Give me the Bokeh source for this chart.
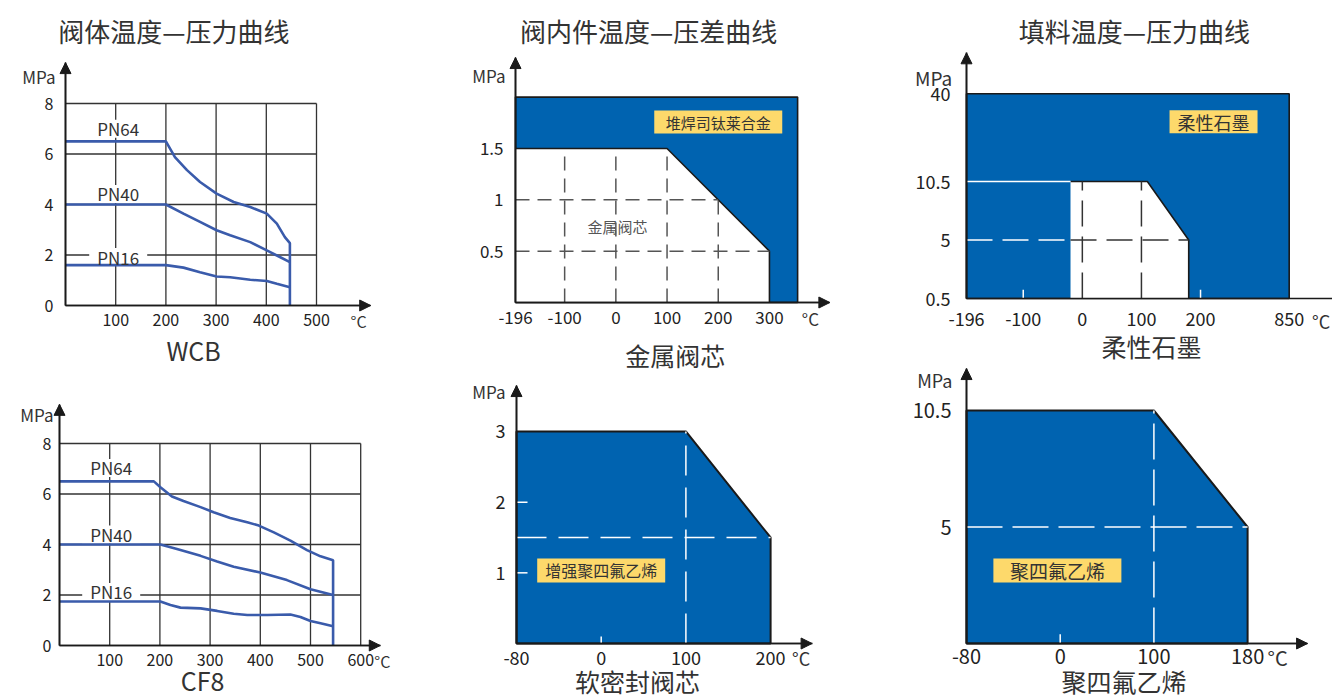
import numpy as np
from bokeh.plotting import figure
from bokeh.layouts import row, column
from bokeh.models import Arrow, NormalHead, Label, FixedTicker, Range1d
from bokeh.embed import file_html
from bokeh.resources import INLINE

# ============================ DATA ============================
title_body = "阀体温度—压力曲线"
title_trim = "阀内件温度—压差曲线"
title_pack = "填料温度—压力曲线"
sub_wcb, sub_cf8 = "WCB", "CF8"
sub_metal, sub_soft, sub_graph, sub_ptfe = "金属阀芯", "软密封阀芯", "柔性石墨", "聚四氟乙烯"
curve_names = ["PN64", "PN40", "PN16"]

# WCB body: temperature (°C) / pressure (MPa)
wcb_pn64_t = [0, 200, 218, 242, 268, 301, 335, 368, 401, 421, 437, 447, 447]
wcb_pn64_p = [6.5, 6.5, 5.88, 5.36, 4.89, 4.43, 4.1, 3.9, 3.64, 3.24, 2.71, 2.47, 0]
wcb_pn40_t = [0, 200, 235, 268, 301, 328, 368, 401, 427, 447]
wcb_pn40_p = [4.0, 4.0, 3.64, 3.31, 2.98, 2.78, 2.51, 2.18, 1.92, 1.72]
wcb_pn16_t = [0, 200, 235, 268, 301, 328, 368, 401, 421, 447]
wcb_pn16_p = [1.6, 1.6, 1.5, 1.32, 1.15, 1.12, 1.02, 0.97, 0.86, 0.72]

# CF8 body
cf8_pn64_t = [0, 188, 201, 224, 247, 281, 307, 340, 374, 397, 427, 460, 493, 520, 545, 545]
cf8_pn64_p = [6.5, 6.5, 6.27, 5.9, 5.72, 5.48, 5.28, 5.05, 4.88, 4.75, 4.48, 4.15, 3.78, 3.53, 3.38, 0]
cf8_pn40_t = [0, 201, 234, 281, 314, 347, 400, 453, 500, 545]
cf8_pn40_p = [4.0, 4.0, 3.82, 3.55, 3.33, 3.12, 2.89, 2.59, 2.23, 2.0]
cf8_pn16_t = [0, 201, 221, 241, 281, 314, 347, 374, 414, 460, 480, 500, 520, 545]
cf8_pn16_p = [1.74, 1.74, 1.6, 1.5, 1.47, 1.37, 1.26, 1.21, 1.21, 1.23, 1.13, 0.97, 0.88, 0.76]

body_y_ticks = [0, 2, 4, 6, 8]
wcb_x_ticks = [100, 200, 300, 400, 500]
cf8_x_ticks = [100, 200, 300, 400, 500, 600]

# Metal trim (stellite overlay envelope and metal core envelope)
metal_hard_t = [-196, 355]
metal_hard_top = 2.0
metal_hard_label = "堆焊司钛莱合金"
metal_t = [-196, 100, 300, 300]
metal_p = [1.5, 1.5, 0.5, 0]
metal_grid_t = [-100, 0, 100, 200]
metal_grid_p = [0.5, 1.0]
metal_x_ticks = [-196, -100, 0, 100, 200, 300]
metal_y_ticks = [0.5, 1, 1.5]
metal_y_labels = ["0.5", "1", "1.5"]

# Soft seat (reinforced PTFE)
soft_t = [-80, 100, 200, 200]
soft_p = [3, 3, 1.5, 0]
soft_label = "增强聚四氟乙烯"
soft_x_ticks = [-80, 0, 100, 200]
soft_y_ticks = [1, 2, 3]

# Flexible graphite packing
graph_outer_t = [-196, 850]
graph_outer_top = 40
graph_t = [-20, -20, 110, 180, 180]
graph_p = [0.5, 10.5, 10.5, 5, 0.5]
graph_grid_t = [0, 100]
graph_grid_p = [5]
graph_x_ticks = [-196, -100, 0, 100, 200, 850]
graph_y_ticks = [0.5, 5, 10.5, 40]
graph_y_labels = ["0.5", "5", "10.5", "40"]

# PTFE packing
ptfe_t = [-80, 100, 180, 180]
ptfe_p = [10.5, 10.5, 5, 0]
ptfe_x_ticks = [-80, 0, 100, 180]
ptfe_y_ticks = [5, 10.5]
ptfe_y_labels = ["5", "10.5"]

# ============================ STYLE ============================
FONT = "Noto Sans CJK SC"
BLUE = "#0063b0"
CURVE = "#3a5bab"
YELLOW = "#fdd96b"
TXT = "#333333"
AX = "#1a1a1a"
GRID = "#333333"

# piecewise axis layouts (schematic, non-uniform axes)
P4X = ([-80, 0, 100, 200], [0, 1, 2, 3])
P5X = ([-196, 200, 850], [-196, 200, 350])
P5Y = ([0.5, 5, 10.5, 40], [0, 1, 2, 3.5])
P6X = ([-80, 0, 100, 180], [0, 1, 2, 3])
P6Y = ([0, 5, 10.5], [0, 1, 2])


def m(v, spec):
    return [float(a) for a in np.interp(v, spec[0], spec[1])]


def mk(box, origin_px, origin, scale):
    """box: (left, top, w, h) of the figure on the page; origin_px: page pixel of data origin."""
    L, T, W, H = box
    X0, Y0 = origin_px
    xd, yd = origin
    sx, sy = scale
    p = figure(width=W, height=H, min_border=0, min_border_left=0, min_border_right=0,
               min_border_top=0, min_border_bottom=0,
               x_range=Range1d(xd - (X0 - L) / sx, xd + (L + W - X0) / sx),
               y_range=Range1d(yd - (T + H - Y0) / sy, yd + (Y0 - T) / sy),
               toolbar_location=None, output_backend="svg", title=None)
    p.outline_line_color = None
    p.grid.visible = False
    p.background_fill_color = "white"
    p.border_fill_color = "white"
    for ax in (p.xaxis[0], p.yaxis[0]):
        ax.axis_line_color = AX
        ax.axis_line_width = 1.6
        ax.major_tick_line_color = None
        ax.minor_tick_line_color = None
        ax.major_tick_out = 0
        ax.major_tick_in = 0
        ax.minor_tick_out = 0
        ax.minor_tick_in = 0
        ax.major_label_text_font = FONT
        ax.major_label_text_color = "#222222"
    p.xaxis[0].fixed_location = yd
    p.yaxis[0].fixed_location = xd
    return p


def ticks(axis, pos, labels, size, standoff):
    pos = [float(v) for v in pos]
    axis.ticker = FixedTicker(ticks=pos, minor_ticks=[])
    axis.major_label_overrides = {v: t for v, t in zip(pos, labels)}
    axis.major_label_text_font_size = f"{size}px"
    axis.major_label_standoff = standoff


def lab(p, x, y, text, size, color=TXT, align="center"):
    p.add_layout(Label(x=x, y=y, text=text, text_font=FONT, text_font_size=f"{size}px",
                       text_color=color, text_align=align, text_baseline="middle"))


def axes(p, x0, y0, xt, yt, arrow_x=True):
    p.xaxis[0].bounds = (x0, xt)
    p.yaxis[0].bounds = (y0, yt)
    if arrow_x:
        p.add_layout(Arrow(end=NormalHead(size=11, fill_color=AX, line_color=AX),
                           x_start=x0, y_start=y0, x_end=xt, y_end=y0,
                           line_color=AX, line_width=1.6))
    p.add_layout(Arrow(end=NormalHead(size=11, fill_color=AX, line_color=AX),
                       x_start=x0, y_start=y0, x_end=x0, y_end=yt,
                       line_color=AX, line_width=1.6))


def body_panel(p, xt, yt, curves, lab_x, lab_y):
    top, right = max(yt), max(xt)
    p.segment(x0=xt, y0=[0] * len(xt), x1=xt, y1=[top] * len(xt), line_color=GRID, line_width=1.3)
    yy = [v for v in yt if v > 0]
    p.segment(x0=[0] * len(yy), y0=yy, x1=[right] * len(yy), y1=yy, line_color=GRID, line_width=1.3)
    p.rect(x=[lab_x] * 3, y=lab_y, width=58, height=18, width_units="screen",
           height_units="screen", fill_color="white", line_color=None)
    for t, pr in curves:
        p.line(t, pr, line_color=CURVE, line_width=2.6)
    for name, y in zip(curve_names, lab_y):
        lab(p, lab_x, y, name, 17)


# ---------------- Panel 1: WCB ----------------
p1 = mk((0, 0, 440, 370), (65, 305), (0, 0), (0.502, 25.25))
body_panel(p1, wcb_x_ticks, body_y_ticks,
           [(wcb_pn64_t, wcb_pn64_p), (wcb_pn40_t, wcb_pn40_p), (wcb_pn16_t, wcb_pn16_p)],
           105, [7.0, 4.42, 1.92])
ticks(p1.xaxis[0], wcb_x_ticks, [str(v) for v in wcb_x_ticks], 16, 8)
ticks(p1.yaxis[0], body_y_ticks, [str(v) for v in body_y_ticks], 16, 12)
axes(p1, 0, 0, 608, 9.62)
lab(p1, 584, -0.6, "°C", 16)
lab(p1, -20, 9.07, "MPa", 17, align="right")
lab(p1, 216, 10.9, title_body, 26)
lab(p1, 255, -1.78, sub_wcb, 25)

# ---------------- Panel 2: CF8 ----------------
p2 = mk((0, 370, 440, 330), (59, 645), (0, 0), (0.502, 25.25))
body_panel(p2, cf8_x_ticks, body_y_ticks,
           [(cf8_pn64_t, cf8_pn64_p), (cf8_pn40_t, cf8_pn40_p), (cf8_pn16_t, cf8_pn16_p)],
           103, [7.03, 4.4, 2.12])
ticks(p2.xaxis[0], cf8_x_ticks, [str(v) for v in cf8_x_ticks], 16, 8)
ticks(p2.yaxis[0], body_y_ticks, [str(v) for v in body_y_ticks], 16, 8)
axes(p2, 0, 0, 639, 9.55)
lab(p2, 643, -0.6, "°C", 16)
lab(p2, -12, 9.15, "MPa", 17, align="right")
lab(p2, 285, -1.38, sub_cf8, 25)

# ---------------- Panel 3: metal trim ----------------
p3 = mk((440, 0, 450, 378), (515, 302), (-196, 0), (0.512, 102.7))
x0, x1 = metal_hard_t
p3.patch([x0, x0, x1, x1], [0, metal_hard_top, metal_hard_top, 0], fill_color=BLUE,
         line_color=AX, line_width=1.6)
p3.patch([metal_t[0]] + metal_t, [0] + metal_p, fill_color="white", line_color=None)
p3.line(metal_t, metal_p, line_color=AX, line_width=1.6)
edge_t, edge_p = metal_t[:3], metal_p[:3]
h_end = [float(np.interp(v, edge_p[::-1], edge_t[::-1])) for v in metal_grid_p]
p3.segment(x0=[metal_t[0]] * len(metal_grid_p), y0=metal_grid_p, x1=h_end, y1=metal_grid_p,
           line_color="#555555", line_width=1.5, line_dash="14 8")
v_top = [float(np.interp(v, edge_t, edge_p)) for v in metal_grid_t]
p3.segment(x0=metal_grid_t, y0=[0] * len(metal_grid_t), x1=metal_grid_t, y1=v_top,
           line_color="#555555", line_width=1.5, line_dash="14 8")
p3.rect(x=[200], y=[1.757], width=128, height=23, width_units="screen", height_units="screen",
        fill_color=YELLOW, line_color=None)
lab(p3, 200, 1.757, metal_hard_label, 15)
lab(p3, 3, 0.74, sub_metal, 15, color="#555555")
ticks(p3.xaxis[0], metal_x_ticks, [str(v) for v in metal_x_ticks], 17, 8)
ticks(p3.yaxis[0], metal_y_ticks, metal_y_labels, 17, 12)
axes(p3, -196, 0, 418, 2.385)
lab(p3, 380, -0.16, "°C", 17)
lab(p3, -215.5, 2.21, "MPa", 17, align="right")
lab(p3, 64, 2.65, title_trim, 26)
lab(p3, 116, -0.51, sub_metal, 25)

# ---------------- Panel 4: soft seat ----------------
p4 = mk((440, 378, 450, 322), (516, 643), (0, 0), (84.7, 70.67))
sx = m(soft_t, P4X)
p4.patch([sx[0]] + sx, [0] + soft_p, fill_color=BLUE, line_color=AX, line_width=2)
c100 = m([100], P4X)[0]
p4.segment(x0=[sx[0]], y0=[soft_p[2]], x1=[sx[-1]], y1=[soft_p[2]], line_color="white",
           line_width=1.5, line_dash="30 12")
p4.segment(x0=[c100], y0=[0], x1=[c100], y1=[soft_p[0]], line_color="white",
           line_width=1.5, line_dash="30 12")
p4.segment(x0=[0, 0], y0=[1, 2], x1=[0.13, 0.13], y1=[1, 2], line_color="white", line_width=1.5)
p4.segment(x0=m([0], P4X), y0=[0], x1=m([0], P4X), y1=[0.1], line_color="white", line_width=1.5)
p4.rect(x=[1.0], y=[1.033], width=128, height=24, width_units="screen", height_units="screen",
        fill_color=YELLOW, line_color=None)
lab(p4, 1.0, 1.033, soft_label, 16)
ticks(p4.xaxis[0], m(soft_x_ticks, P4X), [str(v) for v in soft_x_ticks], 18, 7)
ticks(p4.yaxis[0], soft_y_ticks, [str(v) for v in soft_y_ticks], 18, 11)
axes(p4, 0, 0, 3.49, 3.65)
lab(p4, 3.36, -0.2, "°C", 18)
lab(p4, -0.13, 3.57, "MPa", 17, align="right")
lab(p4, 1.43, -0.53, sub_soft, 25)

# ---------------- Panel 5: flexible graphite ----------------
p5 = mk((890, 0, 442, 365), (966, 298), (-196, 0), (0.591, 58.5))
ox = m(graph_outer_t, P5X)
oy = m([graph_outer_top], P5Y)[0]
p5.patch([ox[0], ox[0], ox[1], ox[1]], [0, oy, oy, 0], fill_color=BLUE, line_color=AX, line_width=1.6)
gx, gy = m(graph_t, P5X), m(graph_p, P5Y)
p5.patch(gx, gy, fill_color="white", line_color=None)
p5.line(gx[1:], gy[1:], line_color=AX, line_width=1.6)
y105 = m([10.5], P5Y)[0]
p5.segment(x0=[-196], y0=[y105], x1=[gx[0]], y1=[y105], line_color="white", line_width=1.3)
y5 = m(graph_grid_p, P5Y)
p5.segment(x0=[-196], y0=y5, x1=[gx[0]], y1=y5, line_color="white", line_width=1.5, line_dash="26 10")
xr5 = float(np.interp(graph_grid_p[0], graph_p[2:][::-1], graph_t[2:][::-1]))
p5.segment(x0=[gx[0]], y0=y5, x1=m([xr5], P5X), y1=y5, line_color="#333333", line_width=1.5,
           line_dash="26 10")
vx = m(graph_grid_t, P5X)
vt = m([float(np.interp(v, graph_t[1:4], graph_p[1:4])) for v in graph_grid_t], P5Y)
p5.segment(x0=vx, y0=[0] * len(vx), x1=vx, y1=vt, line_color="#333333", line_width=1.5,
           line_dash="26 10")
tk = m([-100, 200], P5X)
p5.segment(x0=tk, y0=[0, 0], x1=tk, y1=[0.15, 0.15], line_color="white", line_width=1.5)
p5.rect(x=[222], y=[3.02], width=88, height=23, width_units="screen", height_units="screen",
        fill_color=YELLOW, line_color=None)
lab(p5, 222, 3.02, sub_graph, 18)
ticks(p5.xaxis[0], m(graph_x_ticks, P5X), [str(v) for v in graph_x_ticks], 18, 13)
ticks(p5.yaxis[0], m(graph_y_ticks, P5Y), graph_y_labels, 18, 16)
axes(p5, -196, 0, 620, 4.2, arrow_x=False)
lab(p5, 404, -0.38, "°C", 18)
lab(p5, -220, 3.78, "MPa", 19, align="right")
lab(p5, 88, 4.58, title_pack, 26)
lab(p5, 117, -0.82, sub_graph, 25)

# ---------------- Panel 6: PTFE ----------------
p6 = mk((890, 365, 442, 335), (966, 643), (0, 0), (93.7, 116.5))
px, py = m(ptfe_t, P6X), m(ptfe_p, P6Y)
p6.patch([px[0]] + px, [0] + py, fill_color=BLUE, line_color=AX, line_width=2)
h5 = m([5], P6Y)
p6.segment(x0=[px[0]], y0=h5, x1=[px[-1]], y1=h5, line_color="white", line_width=1.5, line_dash="36 10")
v100 = m([100], P6X)
p6.segment(x0=v100, y0=[0], x1=v100, y1=[py[0]], line_color="white", line_width=1.5, line_dash="36 10")
z0 = m([0], P6X)
p6.segment(x0=z0, y0=[0], x1=z0, y1=[0.08], line_color="white", line_width=1.5)
p6.rect(x=[0.97], y=[0.627], width=128, height=24, width_units="screen", height_units="screen",
        fill_color=YELLOW, line_color=None)
lab(p6, 0.97, 0.627, sub_ptfe, 19)
ticks(p6.xaxis[0], m(ptfe_x_ticks, P6X), [str(v) for v in ptfe_x_ticks], 20, 5)
ticks(p6.yaxis[0], m(ptfe_y_ticks, P6Y), ptfe_y_labels, 20, 15)
axes(p6, 0, 0, 3.64, 2.36)
lab(p6, 3.32, -0.12, "°C", 20)
lab(p6, -0.15, 2.266, "MPa", 18, align="right")
lab(p6, 1.68, -0.32, sub_ptfe, 25)

layout = row(column(p1, p2), column(p3, p4), column(p5, p6))
open("out.html", "w").write(file_html(layout, INLINE))
